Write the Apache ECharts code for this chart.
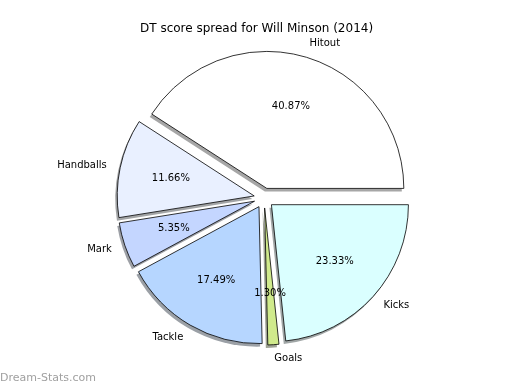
<!DOCTYPE html>
<html>
<head>
<meta charset="utf-8">
<script src="https://cdn.jsdelivr.net/npm/echarts@6/dist/echarts.min.js"></script>
<style>
html,body{margin:0;padding:0;background:#fff;}
#chart{width:520px;height:390px;}
</style>
</head>
<body>
<div id="chart"></div>
<script>
const titleText = 'DT score spread for Will Minson (2014)';
const categories = ['Hitout', 'Handballs', 'Mark', 'Tackle', 'Goals', 'Kicks'];
const percents = [40.87, 11.66, 5.35, 17.49, 1.30, 23.33];
const sliceColors = ['#ffffff', '#e9f0ff', '#c4d6ff', '#b6d6ff', '#d0ea8c', '#daffff'];
const watermark = 'Dream-Stats.com';

const R = 137;
const CX = 264, CY = 198;
const FONT = 'DejaVu Sans';

// shadow tint: 30% of face colour at 50% alpha over white
function shadowOf(hex) {
  const n = parseInt(hex.slice(1), 16);
  const ch = [(n >> 16) & 255, (n >> 8) & 255, n & 255].map(v => Math.round(0.5 * 0.3 * v + 0.5 * 255));
  return 'rgb(' + ch.join(',') + ')';
}

const shadowData = categories.map((c, i) => ({
  name: c, value: percents[i], selected: true,
  itemStyle: { color: shadowOf(sliceColors[i]) }
}));
const mainData = categories.map((c, i) => ({
  name: c, value: percents[i], selected: true,
  itemStyle: { color: sliceColors[i] }
}));
const labelData = categories.map((c, i) => ({
  name: c, value: percents[i], selected: true
}));

const common = {
  type: 'pie', silent: true,
  startAngle: 0, clockwise: false,
  selectedMode: 'multiple', selectedOffset: 10,
  avoidLabelOverlap: false,
  emphasis: { disabled: true }
};

const chart = echarts.init(document.getElementById('chart'), null, { renderer: 'canvas' });
chart.setOption({
  backgroundColor: '#ffffff',
  animation: false,
  title: {
    text: titleText, left: 140, top: 23, padding: 0,
    textStyle: { fontFamily: FONT, fontSize: 12, fontWeight: 'normal', color: '#000' }
  },
  graphic: [{
    type: 'text', left: 0, top: 373,
    style: { text: watermark, fontFamily: FONT, fontSize: 11, fill: '#a0a0a0' }
  }],
  series: [
    Object.assign({}, common, {
      center: [CX - 2, CY + 3], radius: [0, R],
      itemStyle: { borderWidth: 0 },
      label: { show: false }, labelLine: { show: false },
      data: shadowData
    }),
    Object.assign({}, common, {
      center: [CX, CY], radius: [0, R],
      itemStyle: { borderColor: '#000', borderWidth: 0.8 },
      label: {
        show: true, position: 'outside', distanceToLabelLine: 0,
        fontFamily: FONT, fontSize: 10, color: '#000', formatter: '{b}'
      },
      labelLine: { show: false, length: R * 0.1, length2: 0 },
      data: mainData
    }),
    Object.assign({}, common, {
      center: [CX, CY], radius: [0, R * 1.2],
      itemStyle: { color: 'rgba(0,0,0,0)', borderWidth: 0 },
      label: {
        show: true, position: 'inside',
        fontFamily: FONT, fontSize: 10, color: '#000',
        formatter: p => p.value.toFixed(2) + '%'
      },
      labelLine: { show: false },
      data: labelData
    })
  ]
});
</script>
</body>
</html>
